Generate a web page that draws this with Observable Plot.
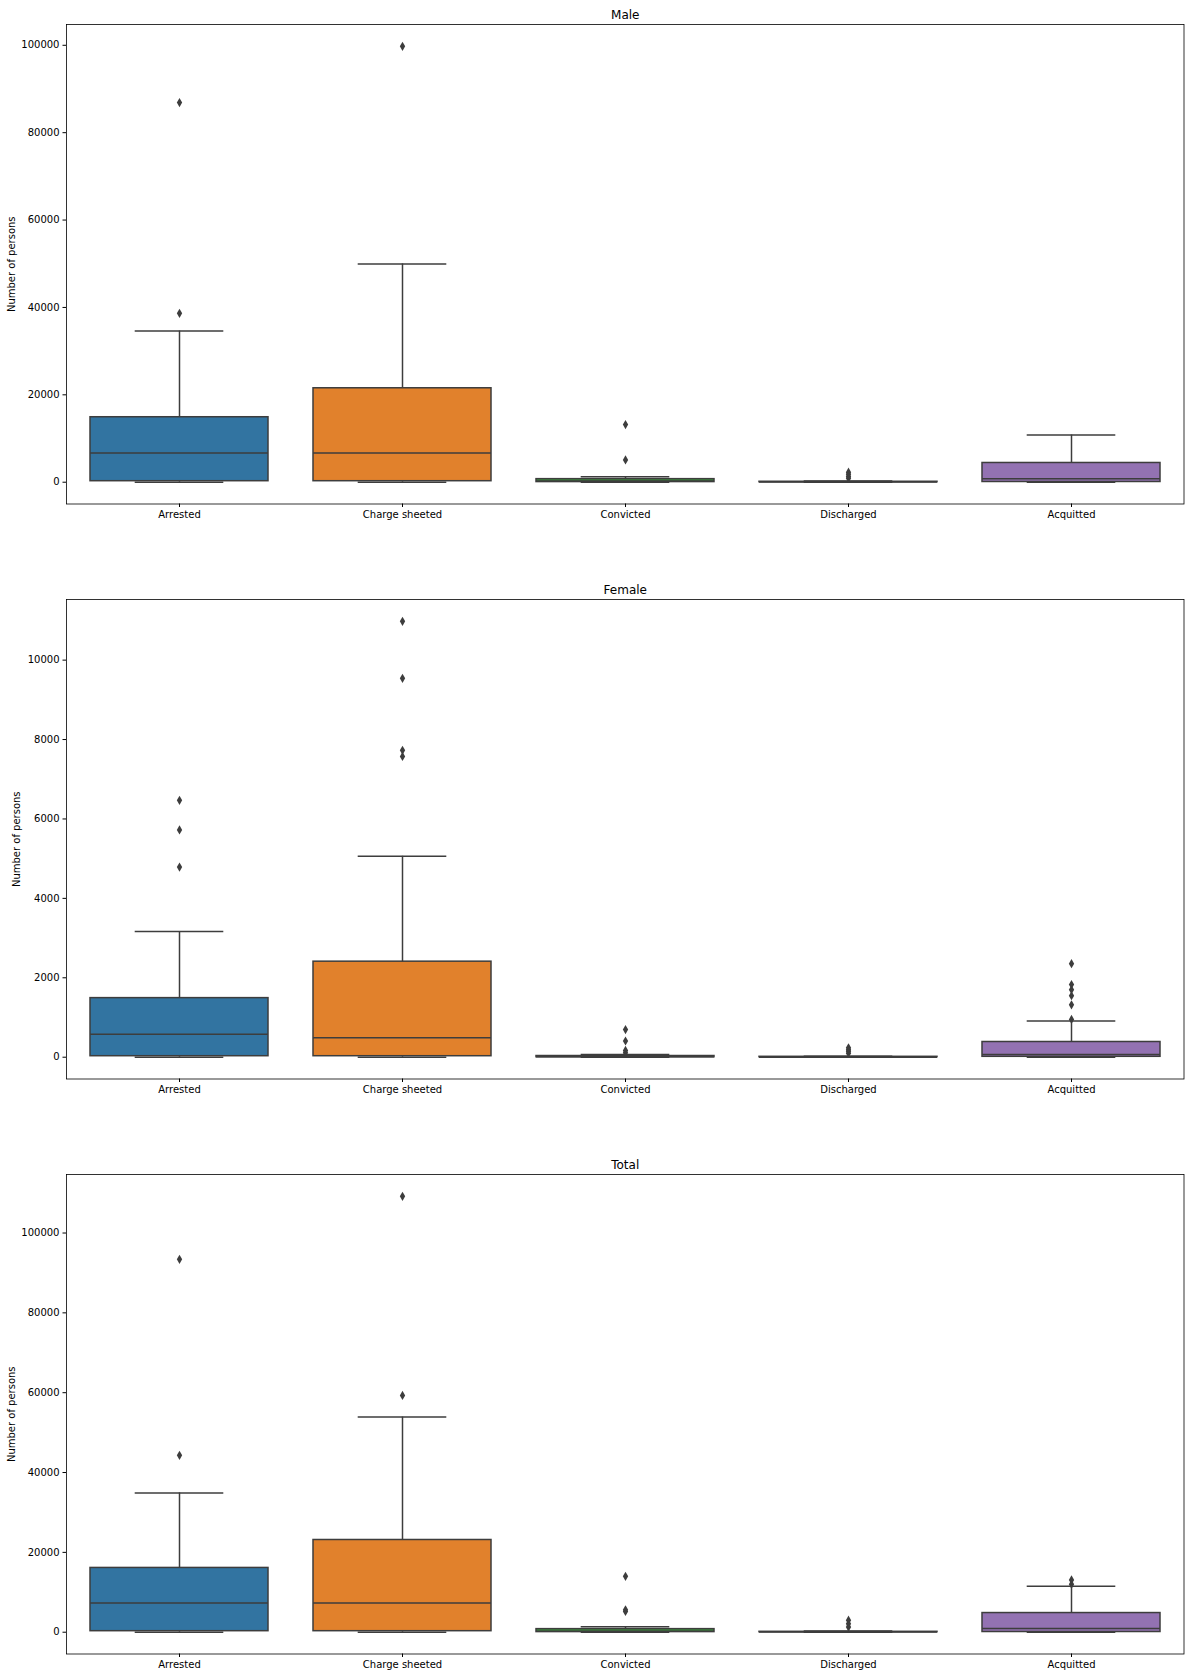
<!DOCTYPE html>
<html>
<head>
<meta charset="utf-8">
<script src="https://cdn.jsdelivr.net/npm/d3@7"></script>
<script src="https://cdn.jsdelivr.net/npm/@observablehq/plot@0.6"></script>
<style>
  html, body { margin: 0; padding: 0; background: white; }
  svg { display: block; }
</style>
</head>
<body>
<div id="chart"></div>
<script>
// ---------- data ----------
const categories = ["Arrested", "Charge sheeted", "Convicted", "Discharged", "Acquitted"];
const boxColors = ["#3274a1", "#e1812c", "#3a923a", "#c03d3e", "#9372b2"];
const lineGray = "#3d3d3d";

// Male
const maleLow    = [0, 0, 0, 0, 0];
const maleQ1     = [230, 230, 30, 0, 50];
const maleMedian = [6660, 6660, 250, 20, 770];
const maleQ3     = [14870, 21500, 700, 100, 4400];
const maleHigh   = [34600, 49960, 1240, 300, 10800];
const maleOutliers = [[38650, 86900], [99770], [5100, 13200], [900, 1300, 1800, 2300], []];
const maleTicks  = [0, 20000, 40000, 60000, 80000, 100000];

// Female
const femaleLow    = [0, 0, 0, 0, 0];
const femaleQ1     = [25, 25, 0, 0, 10];
const femaleMedian = [578, 493, 10, 2, 68];
const femaleQ3     = [1488, 2406, 30, 10, 383];
const femaleHigh   = [3163, 5060, 68, 25, 910];
const femaleOutliers = [[4787, 5723, 6471], [7576, 7730, 9541, 10978], [110, 170, 408, 697], [100, 150, 190, 238], [952, 1318, 1548, 1700, 1828, 2355]];
const femaleTicks  = [0, 2000, 4000, 6000, 8000, 10000];

// Total
const totalLow    = [0, 0, 0, 0, 0];
const totalQ1     = [255, 255, 30, 0, 50];
const totalMedian = [7330, 7330, 250, 20, 940];
const totalQ3     = [16100, 23100, 770, 100, 4800];
const totalHigh   = [34900, 53900, 1360, 300, 11500];
const totalOutliers = [[44300, 93400], [59300, 109200], [5200, 5600, 14000], [1300, 2100, 3000], [12000, 13100]];
const totalTicks  = [0, 20000, 40000, 60000, 80000, 100000];

// ---------- layout ----------
const W = 1189, ML = 66, MR = 5.5, MT = 24;
const step = (W - ML - MR) / (categories.length - 0.2 + 0.2);
const bandW = step * 0.8;
const capInset = bandW / 4;

function panel(title, low, q1, med, q3, high, outliers, ticks, height, marginBottom, yLabelOffset) {
  const rows = categories.map((c, i) => ({cat: c, lo: low[i], q1: q1[i], med: med[i], q3: q3[i], hi: high[i]}));
  const outRows = categories.flatMap((c, i) => outliers[i].map(v => ({cat: c, v})));
  const all = [...low, ...high, ...outliers.flat()];
  const mn = d3.min(all), mx = d3.max(all), pad = (mx - mn) * 0.05;
  return Plot.plot({
    width: W, height,
    marginLeft: ML, marginRight: MR, marginTop: MT, marginBottom,
    style: {fontFamily: "'DejaVu Sans', sans-serif", fontSize: "10px", color: "black", background: "white"},
    x: {domain: categories, paddingInner: 0.2, paddingOuter: 0.1, label: null, tickSize: 3.5, tickPadding: 3.5},
    y: {domain: [mn - pad, mx + pad], ticks, tickFormat: d3.format("d"), tickSize: 3.5, tickPadding: 3.5, label: null},
    color: {domain: categories, range: boxColors},
    marks: [
      Plot.ruleX(rows, {x: "cat", y1: "lo", y2: "hi", stroke: lineGray, strokeWidth: 1.5}),
      Plot.tickY(rows, {x: "cat", y: "lo", stroke: lineGray, strokeWidth: 1.5, insetLeft: capInset, insetRight: capInset}),
      Plot.tickY(rows, {x: "cat", y: "hi", stroke: lineGray, strokeWidth: 1.5, insetLeft: capInset, insetRight: capInset}),
      Plot.barY(rows, {x: "cat", y1: "q1", y2: "q3", fill: "cat", stroke: lineGray, strokeWidth: 1.5}),
      Plot.tickY(rows, {x: "cat", y: "med", stroke: lineGray, strokeWidth: 1.5}),
      Plot.dot(outRows, {x: "cat", y: "v", symbol: "diamond", r: 2.8, fill: lineGray, stroke: "none"}),
      Plot.frame({stroke: "black", strokeWidth: 0.8}),
      Plot.text([title], {frameAnchor: "top", lineAnchor: "bottom", dy: -6, text: d => d, fontSize: 12}),
      Plot.text(["Number of persons"], {frameAnchor: "left", textAnchor: "middle", lineAnchor: "middle", rotate: -90, dx: -yLabelOffset, text: d => d, fontSize: 10})
    ]
  });
}

const chart = document.getElementById("chart");
chart.append(panel("Male", maleLow, maleQ1, maleMedian, maleQ3, maleHigh, maleOutliers, maleTicks, 575, 71.5, 55));
chart.append(panel("Female", femaleLow, femaleQ1, femaleMedian, femaleQ3, femaleHigh, femaleOutliers, femaleTicks, 575, 71.5, 50));
chart.append(panel("Total", totalLow, totalQ1, totalMedian, totalQ3, totalHigh, totalOutliers, totalTicks, 528, 24.5, 55));
</script>
</body>
</html>
